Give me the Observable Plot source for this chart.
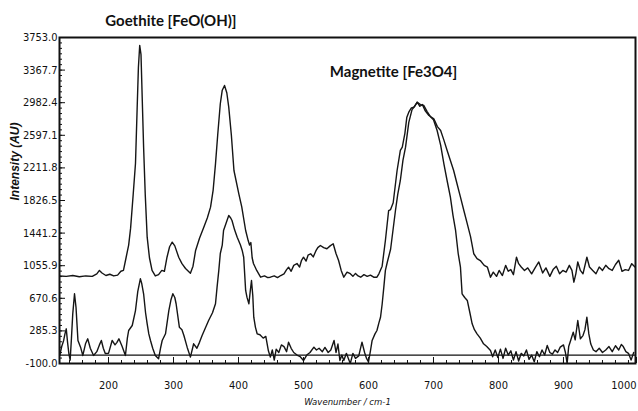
<!DOCTYPE html>
<html><head><meta charset="utf-8">
<script src="https://cdn.jsdelivr.net/npm/d3@7"></script>
<script src="https://cdn.jsdelivr.net/npm/@observablehq/plot@0.6"></script>
<style>
body{margin:0;background:#fff;}
</style></head><body><div id="chart"></div>
<script>
// Goethite [FeO(OH)] spectrum (upper trace)
const goethiteX = [125,135,145,155,165,175,182,186,190,196,202,208,214,219,223,227,231,234,238,241.5,244,246,248,250,252,254,256.5,259.5,263,267,272,277,282,286,290,294,298,302,308,313,318.5,326,330,334,340,346.6,352,357,361,364.6,368,372,375,378.5,382,385,389,393,400.5,405,411,415,417,419,421,423,428,434,440,445,449,455,460,465,470,474,477,481,485,490,494,497,500,504,507,511,515,519,522,526,531,536,541,545.7,550,554,558,562,567,572,576,580,584,588,593,598,603,608,613,616,621,626,631,634,638,644,649,652,656,659,662,666,670,675,679,683,687,693,700.5,706,711,716,721,726,731,736,741.5,747,752,757,762,767,772,778,783,787.7,792,797,801,806,811,815,819,823,827.7,831,835,840,845,851,857,862,868,873,879,884,889,894,899,904,909,913,916,919,922,926,930,936,940,945,950,955,960,965,970,975,980,985,990,995,1000,1005,1010];
const goethiteY = [935,930,940,925,935,930,960,1000,970,940,955,935,945,990,1000,1150,1300,1500,1900,2264,2900,3400,3659,3550,3000,2457,1900,1393,1150,1000,935,950,1000,990,1156,1280,1334,1290,1156,1080,1023,967,1050,1236,1380,1511,1620,1748,1950,2260,2600,2970,3130,3186,3100,2930,2600,2181,1906,1750,1472,1350,1300,1330,1150,1082,1000,920,935,915,920,935,915,940,960,1010,1038,990,1060,1082,1040,1120,1156,1110,1180,1197,1160,1230,1270,1295,1270,1256,1290,1315,1200,1117,1000,920,980,961,930,965,935,920,950,930,945,920,920,960,1050,1354,1708,1720,1800,2181,2418,2457,2620,2811,2870,2920,2930,2988,2940,2960,2890,2831,2793,2700,2654,2540,2418,2300,2181,2030,1866,1700,1551,1400,1197,1140,1117,1060,1038,920,980,930,1000,940,1060,990,1010,950,1156,1080,1040,1000,1030,960,1040,1100,970,1030,930,1010,1050,960,1000,980,1060,1000,861,960,1100,1000,960,1156,1040,1000,960,1040,1000,1060,1020,1000,1070,1120,990,1010,1000,1080,1040];

// Magnetite [Fe3O4] spectrum (lower trace)
const magnetiteX = [125,128,131,133,135,137,139,141,143,145,147.7,150,153,157,160.5,164.6,168,172,177,182,186,189,192,195,200,205.6,210,213,216,221,226,229,231,236.5,241.5,245,249,251,254,257,259.5,262,264.6,268,272,277,280,282.6,287.7,292.8,296,299,302,304,309,313,316,321,326,331,336,340,344,349,354,360,364.6,367,369.7,372,375,377,381,385,388,390,394,398,403,405.7,408,411,413,416,418,420,422,423.5,426,428.7,433,438,442,446,449,452,455,458,462,466,470,474,477,481,485,490,495,500,505,510,516,520,524,529,533,538,542,547,550,553,556,559,562,566,569,572,576,580,585,590,594,597,600,603,605.6,610,613,616,618.5,621,623.6,626,629,634,641.5,645,649,653,657,662,667,671,675,680,685,690,695,700,705.6,711,716,721,726,730,734,738,741.5,744,748,752,756,759.5,763,767,772,777,782,787.7,791,795,799,803,807,811,815,819,823,827,831,835,839,843,847,851,855,859,863,867,871,875,879,883,887,891,895,900,903,905.6,908,911,915,918,922,926,930,933,936,939,942,946,950,955,960,965,970,975,980,985,989,992,996,1000,1004,1008];
const magnetiteY = [-5,100,172,250,310,150,18,-60,200,487,724,565,172,93,-5,133,192,80,-5,40,120,172,80,18,20,172,120,150,192,100,-5,200,290,349,526,750,901,850,724,500,369,250,172,80,-5,-44,80,172,251,526,650,724,680,606,329,300,231,93,-25,133,80,150,231,320,408,500,606,800,1000,1200,1300,1472,1560,1649,1620,1590,1480,1393,1300,1236,1156,763,684,606,750,881,700,447,330,251,240,200,220,50,-25,60,-60,70,30,120,100,40,152,80,30,0,-20,-65,0,30,93,60,80,40,90,30,60,172,30,130,-65,0,-65,20,-40,-100,20,-40,-10,152,30,-40,-80,50,172,250,290,380,447,600,802,1000,1100,1250,1708,1900,2063,2300,2457,2750,2900,2940,2988,2960,2950,2880,2820,2780,2654,2480,2260,2060,1866,1650,1472,1200,1038,724,680,645,500,369,300,251,200,133,100,54,-20,60,-30,70,-40,80,0,50,-60,40,-70,20,-10,60,-50,0,-80,40,-20,60,0,113,30,10,60,30,93,120,30,-100,100,172,270,180,408,192,230,300,447,250,130,60,40,80,30,60,100,40,110,60,125,100,40,20,-60,30];

// Axis ticks and labels
const yTicks = [-100.0, 285.3, 670.6, 1055.9, 1441.2, 1826.5, 2211.8, 2597.1, 2982.4, 3367.7, 3753.0];
const yMinorTicks = d3.range(0, 61).map(i => -100 + i * 385.3 / 6);
const xTicks = [200, 300, 400, 500, 600, 700, 800, 900];
const xLastTick = [1000];
const xMinorTicks = d3.range(140, 1010, 20);
const xDomain = [124.6, 1010.8];
const yDomain = [-100, 3753];

// Annotations
const titles = ["Goethite [FeO(OH)]", "Magnetite [Fe3O4]"];
const titleX = [296, 638.5];
const titleY = [3942, 3346];
const yLabel = "Intensity (AU)";
const xLabel = "Wavenumber / cm-1";

const goethite = goethiteX.map((x, i) => ({x, y: goethiteY[i]}));
const magnetite = magnetiteX.map((x, i) => ({x, y: magnetiteY[i]}));
const titleData = titles.map((t, i) => ({t, x: titleX[i], y: titleY[i]}));

const narrow = "'Liberation Sans Narrow', 'DejaVu Sans Condensed', 'Liberation Sans', sans-serif";

const chart = Plot.plot({
  width: 638,
  height: 411,
  marginLeft: 59,
  marginRight: 3,
  marginTop: 37,
  marginBottom: 48,
  style: {fontFamily: narrow, fontSize: "11px", background: "#fff", color: "#111"},
  x: {domain: xDomain},
  y: {domain: yDomain},
  marks: [
    Plot.ruleY([0], {stroke: "#111", strokeWidth: 1.2}),
    Plot.line(goethite, {x: "x", y: "y", stroke: "#151515", strokeWidth: 1.4, clip: true}),
    Plot.line(magnetite, {x: "x", y: "y", stroke: "#151515", strokeWidth: 1.4, clip: true}),
    Plot.axisY({ticks: yMinorTicks, tickSize: -3, tickFormat: () => "", label: null}),
    Plot.axisY({ticks: yTicks, tickSize: -6, tickPadding: 8, tickFormat: d => d.toFixed(1), label: null}),
    Plot.axisX({ticks: xMinorTicks, tickSize: -3, tickFormat: () => "", label: null}),
    Plot.axisX({ticks: xTicks, tickSize: -6, tickPadding: 24, tickFormat: d => String(d), label: null}),
    Plot.axisX({ticks: xLastTick, tickSize: -6, tickPadding: 24, tickFormat: d => String(d), textAnchor: "end", dx: 8, label: null}),
    Plot.frame({stroke: "#111", strokeWidth: 2}),
    Plot.text(titleData, {x: "x", y: "y", text: "t", fontFamily: "Lato, 'Open Sans', sans-serif", fontWeight: "bold", fontSize: 15, fill: "#111"}),
    Plot.text([yLabel], {frameAnchor: "left", rotate: -90, dx: -44, fontStyle: "italic", fontWeight: "bold", fontSize: 12, fontFamily: "'Liberation Sans', sans-serif"}),
    Plot.text([xLabel], {frameAnchor: "bottom", dy: 41, fontStyle: "italic", fontSize: 9.5, fontFamily: narrow})
  ]
});
document.getElementById("chart").appendChild(chart);
</script>
</body></html>
